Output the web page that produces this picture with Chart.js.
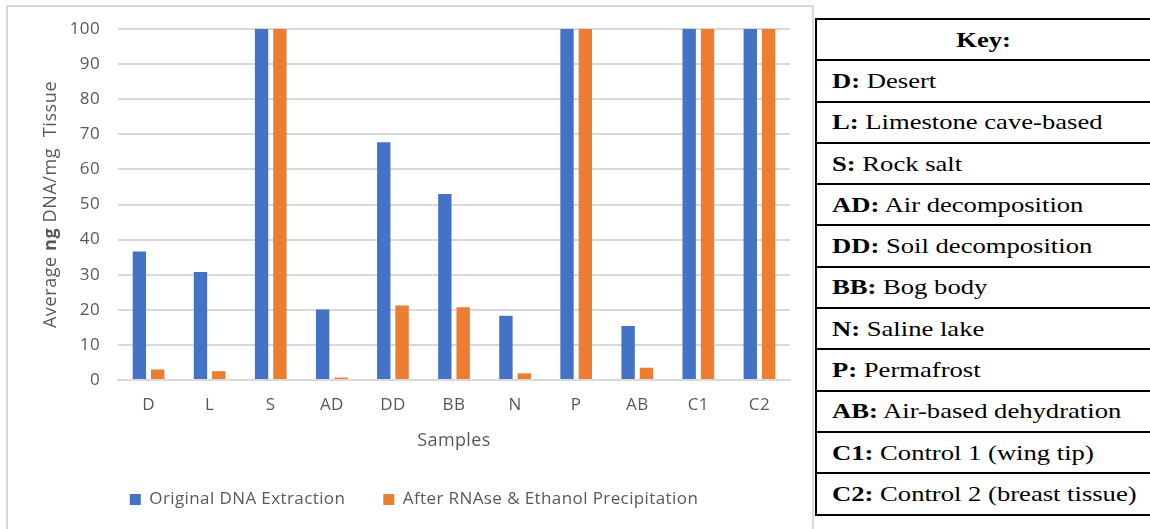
<!DOCTYPE html>
<html>
<head>
<meta charset="utf-8">
<script src="https://cdn.jsdelivr.net/npm/chart.js@4.4.1/dist/chart.umd.min.js"></script>
<style>
    html, body { margin: 0; padding: 0; background: #fff; overflow: hidden; width: 1150px; height: 529px; }
    .chart-box {
        position: absolute; left: 6px; top: 5px;
        width: 804px; height: 540px;
        border: 2px solid #d9d9d9; border-bottom: none;
    }
    .chart-box canvas { display: block; }
    .key {
        position: absolute; left: 815px; top: 18px;
        width: 338px;
        border-collapse: collapse;
        font-family: "Liberation Serif", "DejaVu Serif", serif;
        font-size: 22px; color: #000;
    }
    .key td {
        border: 2px solid #000;
        height: 39.3px; padding: 0 0 0 15px;
        line-height: 1;
    }
    .key td span { display: inline-block; transform: scaleX(1.21); transform-origin: left center; white-space: nowrap; }
    .key td.head { text-align: center; font-weight: bold; padding-left: 0; }
    .key td.head span { transform-origin: center center; }
</style>
</head>
<body>
<div class="chart-box"><canvas id="dnaChart" width="804" height="530"></canvas></div>
<table class="key" id="keyTable"></table>
<script>
// =========================
// DATA
// =========================
const samples = ["D", "L", "S", "AD", "DD", "BB", "N", "P", "AB", "C1", "C2"];
const originalDNA = [36.6, 30.8, 100, 20.1, 67.7, 53, 18.3, 100, 15.4, 100, 100];
const afterRNAse = [3.0, 2.5, 100, 0.7, 21.2, 20.7, 1.9, 100, 3.5, 100, 100];
const yTicks = [0, 10, 20, 30, 40, 50, 60, 70, 80, 90, 100];
const keyCodes = ["D:", "L:", "S:", "AD:", "DD:", "BB:", "N:", "P:", "AB:", "C1:", "C2:"];
const keyNames = ["Desert", "Limestone cave-based", "Rock salt", "Air decomposition", "Soil decomposition",
    "Bog body", "Saline lake", "Permafrost", "Air-based dehydration", "Control 1 (wing tip)", "Control 2 (breast tissue)"];

const textGray = "#595959";
const fontFam = "'Open Sans', 'Noto Sans', sans-serif";

// =========================
// KEY TABLE
// =========================
const keyTable = document.getElementById("keyTable");
keyTable.innerHTML = `<tr><td class="head"><span>Key:</span></td></tr>`;
keyCodes.forEach((c, i) => {
    keyTable.innerHTML += `<tr><td><span><b>${c}</b> ${keyNames[i]}</span></td></tr>`;
});

// =========================
// SPACING + AXIS TITLE (bold "ng")
// =========================
const spacingPlugin = {
    id: "spacing",
    beforeUpdate(chart) { chart.ctx.letterSpacing = "0.4px"; },
    beforeDraw(chart) { chart.ctx.letterSpacing = "0.4px"; }
};

const yTitlePlugin = {
    id: "yTitle",
    afterDraw(chart) {
        const ctx = chart.ctx;
        const parts = [["Average ", "normal"], ["ng", "bold"], [" DNA/mg  Tissue", "normal"]];
        ctx.save();
        ctx.letterSpacing = "0.6px";
        let total = 0;
        parts.forEach(p => {
            ctx.font = `${p[1]} 18px ${fontFam}`;
            total += ctx.measureText(p[0]).width;
        });
        const cy = (chart.chartArea.top + chart.chartArea.bottom) / 2;
        ctx.translate(43, cy);
        ctx.rotate(-Math.PI / 2);
        ctx.fillStyle = textGray;
        ctx.textBaseline = "middle";
        let x = -total / 2;
        parts.forEach(p => {
            ctx.font = `${p[1]} 18px ${fontFam}`;
            ctx.fillText(p[0], x, 0);
            x += ctx.measureText(p[0]).width;
        });
        ctx.restore();
    }
};

// =========================
// CHART
// =========================
const ctx = document.getElementById("dnaChart").getContext("2d");
new Chart(ctx, {
    type: "bar",
    data: {
        labels: samples,
        datasets: [
            { label: "Original DNA Extraction", data: originalDNA, backgroundColor: "#4472C4" },
            { label: "After RNAse & Ethanol Precipitation", data: afterRNAse, backgroundColor: "#ED7D31" }
        ]
    },
    options: {
        responsive: false,
        animation: false,
        datasets: { bar: { categoryPercentage: 0.6, barPercentage: 0.73 } },
        layout: { padding: { left: 30, right: 22, top: 22, bottom: 19 } },
        plugins: {
            legend: {
                position: "bottom",
                labels: {
                    boxWidth: 11, boxHeight: 11, padding: 38,
                    color: textGray,
                    font: { family: fontFam, size: 17 }
                }
            },
            tooltip: { enabled: false }
        },
        scales: {
            x: {
                grid: { display: false, drawTicks: false },
                border: { display: true, color: "#d9d9d9", width: 2 },
                ticks: { color: textGray, padding: 15, font: { family: fontFam, size: 17 } },
                title: {
                    display: true, text: "Samples", color: textGray,
                    padding: { top: 0, bottom: 1 },
                    font: { family: fontFam, size: 18 }
                }
            },
            y: {
                min: 0, max: 100,
                afterFit: s => { s.width = 80; s.paddingTop = 0; },
                afterBuildTicks: s => { s.ticks = yTicks.map(v => ({ value: v })); },
                grid: { color: "#d9d9d9", lineWidth: 2, drawTicks: false },
                border: { display: false },
                ticks: { color: textGray, padding: 18, font: { family: fontFam, size: 17 } }
            }
        }
    },
    plugins: [spacingPlugin, yTitlePlugin]
});
</script>
</body>
</html>
